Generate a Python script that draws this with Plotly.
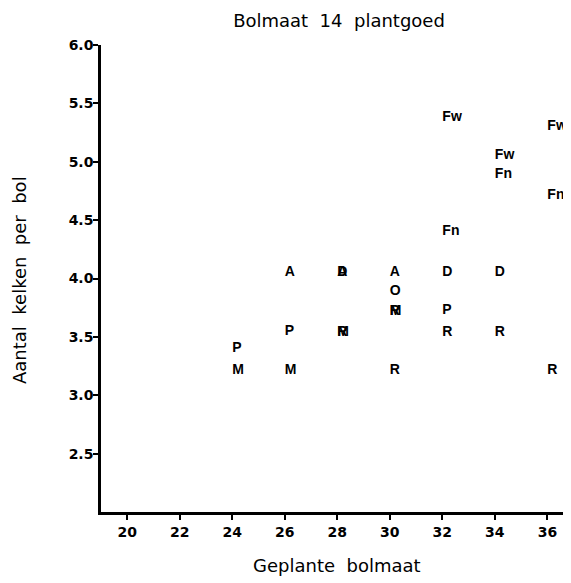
import plotly.graph_objects as go

# Data (x = geplante bolmaat, y = aantal kelken per bol)
x_vals = [24, 24,
          26, 26, 26,
          28, 28, 28, 28,
          30, 30, 30, 30, 30,
          32, 32, 32, 32, 32,
          34, 34, 34, 34,
          36, 36, 36]
y_vals = [3.40, 3.21,
          4.05, 3.55, 3.21,
          4.05, 4.05, 3.54, 3.54,
          4.05, 3.89, 3.72, 3.72, 3.21,
          5.38, 4.40, 4.05, 3.73, 3.54,
          5.05, 4.89, 4.05, 3.54,
          5.30, 4.71, 3.21]
labels = ["P", "M",
          "A", "P", "M",
          "A", "D", "M", "R",
          "A", "O", "M", "R", "R",
          "Fw", "Fn", "D", "P", "R",
          "Fw", "Fn", "D", "R",
          "Fw", "Fn", "R"]

x_ticks = [20, 22, 24, 26, 28, 30, 32, 34, 36]
y_ticks = [2.5, 3.0, 3.5, 4.0, 4.5, 5.0, 5.5, 6.0]
y_ticklabels = ["2.5", "3.0", "3.5", "4.0", "4.5", "5.0", "5.5", "6.0"]

LABEL_FONT = "Liberation Sans, Arial, sans-serif"
TITLE_FONT = "DejaVu Sans, sans-serif"

# the page body has an 8px default margin; compensate so the plot area lands
# where the reference has it (x 101..571, y 45..512 in page pixels)
OFF = 8
W, H = 571 - OFF, 583 - OFF

fig = go.Figure()
fig.add_trace(go.Scatter(
    x=x_vals, y=y_vals, text=labels, mode="text",
    textposition="middle right",
    textfont=dict(family=LABEL_FONT, size=14, color="black", weight="bold"),
    hoverinfo="skip", showlegend=False, cliponaxis=False,
))

fig.update_layout(
    width=W, height=H,
    margin=dict(l=101 - OFF, r=0, t=45 - OFF, b=71, pad=0),
    paper_bgcolor="white", plot_bgcolor="white",
    title=dict(text="Bolmaat  14  plantgoed", x=(339 - OFF) / W, xref="container",
               y=1 - (21 - OFF) / H, yref="container", xanchor="center", yanchor="middle",
               font=dict(family=TITLE_FONT, size=18, color="black")),
    xaxis=dict(range=[19, 36.9], tickvals=x_ticks, showgrid=False, zeroline=False,
               showline=True, linecolor="black", linewidth=2.5,
               ticks="outside", ticklen=5, tickwidth=2, tickcolor="black",
               tickfont=dict(family=TITLE_FONT, size=14, color="black", weight="bold")),
    yaxis=dict(range=[2, 6], tickvals=y_ticks, ticktext=y_ticklabels,
               showgrid=False, zeroline=False,
               showline=True, linecolor="black", linewidth=2.5,
               ticks="outside", ticklen=5, tickwidth=2, tickcolor="black",
               ticklabelstandoff=-3,
               tickfont=dict(family=TITLE_FONT, size=14, color="black", weight="bold")),
    annotations=[
        dict(text="Geplante  bolmaat", xref="paper", yref="paper",
             x=(337 - 101) / 470, y=(512 - 565) / 467, xanchor="center", yanchor="middle",
             showarrow=False, font=dict(family=TITLE_FONT, size=18, color="black")),
        dict(text="Aantal  kelken  per  bol", xref="paper", yref="paper",
             x=(19 - 101) / 470, y=(512 - 280) / 467, xanchor="center", yanchor="middle",
             textangle=-90, showarrow=False,
             font=dict(family=TITLE_FONT, size=18, color="black")),
    ],
)

fig.write_html("out.html")
